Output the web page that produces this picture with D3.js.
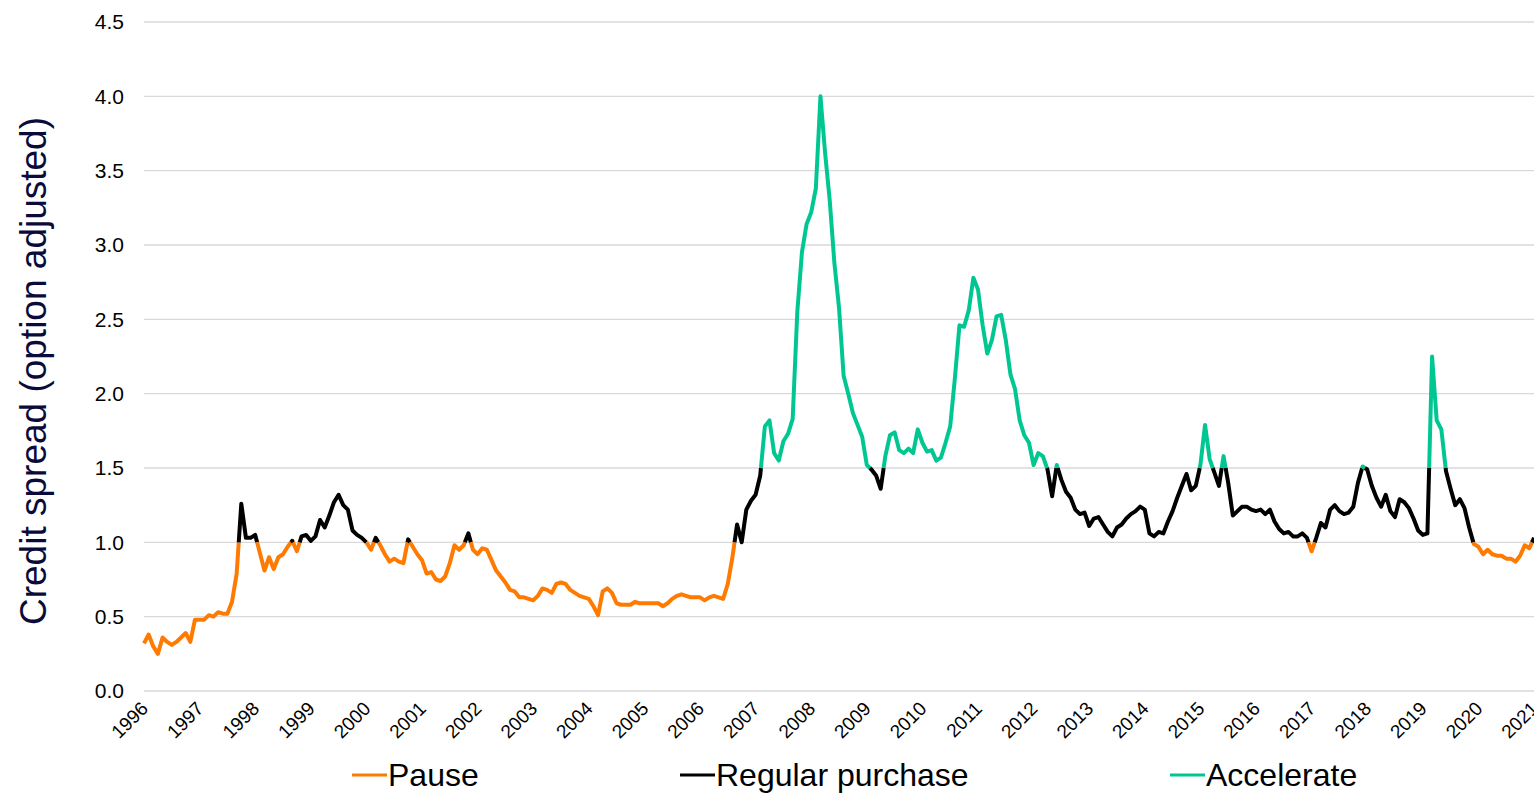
<!DOCTYPE html>
<html>
<head>
<meta charset="utf-8">
<script src="https://cdn.jsdelivr.net/npm/d3@7"></script>
<style>
	body { margin: 0; background: #fff; }
	text { font-family: Arial, "Liberation Sans", sans-serif; }
</style>
</head>
<body>
<div id="chart"></div>
<script>
// monthly credit spread, Jan 1996 .. Jan 2021
var startYear = 1996,
	endYear = 2021;

var tickYears = d3.range(1996, 2022);
var yTicks = [0, 0.5, 1.0, 1.5, 2.0, 2.5, 3.0, 3.5, 4.0, 4.5];

var spread = [
	0.32, 0.38, 0.30, 0.25, 0.36, 0.33, 0.31, 0.33, 0.36, 0.39, 0.33, 0.48, // 1996
	0.48, 0.48, 0.51, 0.50, 0.53, 0.52, 0.52, 0.60, 0.79, 1.26, 1.03, 1.03, // 1997
	1.05, 0.93, 0.81, 0.90, 0.82, 0.90, 0.92, 0.97, 1.01, 0.94, 1.04, 1.05, // 1998
	1.01, 1.04, 1.15, 1.10, 1.18, 1.27, 1.32, 1.25, 1.22, 1.08, 1.05, 1.03, // 1999
	1.00, 0.95, 1.03, 0.98, 0.92, 0.87, 0.89, 0.87, 0.86, 1.02, 0.97, 0.92, // 2000
	0.88, 0.79, 0.80, 0.75, 0.74, 0.77, 0.86, 0.98, 0.95, 0.98, 1.06, 0.95, // 2001
	0.92, 0.96, 0.95, 0.88, 0.81, 0.77, 0.73, 0.68, 0.67, 0.63, 0.63, 0.62, // 2002
	0.61, 0.64, 0.69, 0.68, 0.66, 0.72, 0.73, 0.72, 0.68, 0.66, 0.64, 0.63, // 2003
	0.62, 0.57, 0.51, 0.67, 0.69, 0.66, 0.59, 0.58, 0.58, 0.58, 0.60, 0.59, // 2004
	0.59, 0.59, 0.59, 0.59, 0.57, 0.59, 0.62, 0.64, 0.65, 0.64, 0.63, 0.63, // 2005
	0.63, 0.61, 0.63, 0.64, 0.63, 0.62, 0.72, 0.90, 1.12, 1.00, 1.22, 1.28, // 2006
	1.32, 1.45, 1.78, 1.82, 1.60, 1.55, 1.68, 1.73, 1.83, 2.55, 2.95, 3.14, // 2007
	3.22, 3.38, 4.00, 3.62, 3.30, 2.88, 2.58, 2.12, 2.00, 1.87, 1.79, 1.71, // 2008
	1.52, 1.49, 1.45, 1.36, 1.58, 1.72, 1.74, 1.62, 1.60, 1.63, 1.60, 1.76, // 2009
	1.67, 1.61, 1.62, 1.55, 1.57, 1.67, 1.78, 2.10, 2.46, 2.45, 2.56, 2.78, // 2010
	2.70, 2.46, 2.27, 2.36, 2.52, 2.53, 2.36, 2.13, 2.03, 1.82, 1.72, 1.67, // 2011
	1.52, 1.60, 1.58, 1.49, 1.31, 1.52, 1.42, 1.34, 1.30, 1.22, 1.19, 1.20, // 2012
	1.11, 1.16, 1.17, 1.12, 1.07, 1.04, 1.10, 1.12, 1.16, 1.19, 1.21, 1.24, // 2013
	1.22, 1.06, 1.04, 1.07, 1.06, 1.14, 1.21, 1.30, 1.38, 1.46, 1.35, 1.38, // 2014
	1.52, 1.79, 1.56, 1.47, 1.38, 1.58, 1.40, 1.18, 1.21, 1.24, 1.24, 1.22, // 2015
	1.21, 1.22, 1.19, 1.22, 1.14, 1.09, 1.06, 1.07, 1.04, 1.04, 1.06, 1.03, // 2016
	0.94, 1.03, 1.13, 1.10, 1.22, 1.25, 1.21, 1.19, 1.20, 1.24, 1.40, 1.51, // 2017
	1.49, 1.38, 1.30, 1.24, 1.32, 1.21, 1.17, 1.29, 1.27, 1.23, 1.16, 1.08, // 2018
	1.05, 1.06, 2.25, 1.82, 1.76, 1.48, 1.36, 1.25, 1.29, 1.23, 1.10, 0.99, // 2019
	0.97, 0.92, 0.95, 0.92, 0.91, 0.91, 0.89, 0.89, 0.87, 0.91, 0.98, 0.96, // 2020
	1.03                                                                     // 2021
];

// regimes: below 1.0 pause, 1.0 - 1.5 regular, above 1.5 accelerate
var regimeNames = ["Pause", "Regular purchase", "Accelerate"];
var regimeColors = ["#ff7a00", "#000000", "#00c791"];
var regimeLevels = [1.0, 1.5];

var width = 1534,
	height = 793;
var margin = {top: 22, right: 0, bottom: 102, left: 144};

var svg = d3.select("#chart")
	.append("svg")
	.attr("width", width)
	.attr("height", height);

var x_scale = d3.scaleLinear()
	.domain([startYear, endYear])
	.range([margin.left, width - margin.right]);

var y_scale = d3.scaleLinear()
	.domain([0, 4.5])
	.range([height - margin.bottom, margin.top]);

// gridlines
svg.append("g")
	.attr("class", "grid")
	.selectAll("line")
	.data(yTicks)
	.enter()
	.append("line")
	.attr("x1", x_scale(startYear))
	.attr("x2", x_scale(endYear))
	.attr("y1", function(d){ return y_scale(d) })
	.attr("y2", function(d){ return y_scale(d) })
	.attr("stroke", "#d9d9d9")
	.attr("stroke-width", 1.3);

// y axis
var yAxis = svg.append("g")
	.attr("transform", "translate(" + margin.left + ",0)")
	.call(d3.axisLeft(y_scale).tickValues(yTicks).tickFormat(d3.format(".1f")).tickSize(0).tickPadding(20));
yAxis.select(".domain").remove();
yAxis.selectAll("text")
	.attr("font-size", 21)
	.attr("font-family", "Arial, 'Liberation Sans', sans-serif")
	.attr("fill", "#000");

// x axis, rotated year labels
var xAxis = svg.append("g")
	.attr("transform", "translate(0," + y_scale(0) + ")")
	.call(d3.axisBottom(x_scale).tickValues(tickYears).tickFormat(d3.format("d")).tickSize(0));
xAxis.select(".domain").remove();
xAxis.selectAll("text")
	.attr("font-size", 19)
	.attr("font-family", "Arial, 'Liberation Sans', sans-serif")
	.attr("fill", "#000")
	.attr("y", 0)
	.attr("dy", "0.35em")
	.attr("text-anchor", "end")
	.attr("transform", "translate(0,14) rotate(-45)");

// axis title
svg.append("text")
	.attr("transform", "translate(46,371) rotate(-90)")
	.attr("text-anchor", "middle")
	.attr("font-size", 37)
	.attr("fill", "#0b0b3b")
	.text("Credit spread (option adjusted)");

// build points, then split the line where it crosses a regime level
var points = spread.map(function(v, i){
	return {t: startYear + i / 12, v: v};
});

function regimeOf(v){
	if (v < regimeLevels[0]) return 0;
	if (v <= regimeLevels[1]) return 1;
	return 2;
}

var runs = [];
for (var i = 0; i < points.length - 1; i++) {
	var a = points[i], b = points[i + 1];
	var cuts = regimeLevels
		.filter(function(l){ return (l - a.v) * (l - b.v) < 0 })
		.map(function(l){ return {t: a.t + (l - a.v) / (b.v - a.v) * (b.t - a.t), v: l} })
		.sort(function(p, q){ return p.t - q.t });
	var seq = [a].concat(cuts, [b]);
	for (var j = 0; j < seq.length - 1; j++) {
		var r = regimeOf((seq[j].v + seq[j + 1].v) / 2);
		var last = runs[runs.length - 1];
		if (last && last.regime === r) {
			last.pts.push(seq[j + 1]);
		} else {
			runs.push({regime: r, pts: [seq[j], seq[j + 1]]});
		}
	}
}

var line = d3.line()
	.x(function(d){ return x_scale(d.t) })
	.y(function(d){ return y_scale(d.v) });

svg.append("g")
	.attr("class", "series")
	.selectAll("path")
	.data(runs)
	.enter()
	.append("path")
	.attr("d", function(d){ return line(d.pts) })
	.attr("fill", "none")
	.attr("stroke", function(d){ return regimeColors[d.regime] })
	.attr("stroke-width", 4)
	.attr("stroke-linejoin", "round");

// legend
var legendX = [352, 680, 1170];
var legend = svg.append("g")
	.attr("class", "legend")
	.selectAll("g")
	.data(regimeNames)
	.enter()
	.append("g")
	.attr("transform", function(d, i){ return "translate(" + legendX[i] + ",775)" });

legend.append("line")
	.attr("x1", 0)
	.attr("x2", 35)
	.attr("stroke", function(d, i){ return regimeColors[i] })
	.attr("stroke-width", 3);

legend.append("text")
	.attr("x", 36)
	.attr("dy", "0.33em")
	.attr("font-size", 32)
	.attr("fill", "#000")
	.text(function(d){ return d });
</script>
</body>
</html>
